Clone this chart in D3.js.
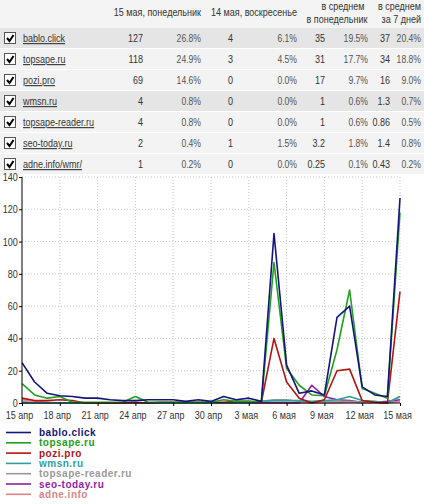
<!DOCTYPE html>
<html>
<head>
<meta charset="utf-8">
<script src="https://cdn.jsdelivr.net/npm/d3@7"></script>
<style>
  body { margin: 0; background: #fff; }
  svg { display: block; font-family: "Liberation Sans", Arial, sans-serif; }
  .grid line { stroke: #c8c8c8; stroke-dasharray: 1,2; }
  .axis text { font-size: 11px; fill: #333; }
  .axis path, .axis line { stroke: #000; }
</style>
</head>
<body>
<div id="chart"></div>
<script>
// table
const sites = ["bablo.click", "topsape.ru", "pozi.pro", "wmsn.ru", "topsape-reader.ru", "seo-today.ru", "adne.info/wmr/"];
const monVals = ["127", "118", "69", "4", "4", "2", "1"];
const monPct = ["26.8%", "24.9%", "14.6%", "0.8%", "0.8%", "0.4%", "0.2%"];
const sunVals = ["4", "3", "0", "0", "0", "1", "0"];
const sunPct = ["6.1%", "4.5%", "0.0%", "0.0%", "0.0%", "1.5%", "0.0%"];
const avgMonVals = ["35", "31", "17", "1", "1", "3.2", "0.25"];
const avgMonPct = ["19.5%", "17.7%", "9.7%", "0.6%", "0.6%", "1.8%", "0.1%"];
const avg7Vals = ["37", "34", "16", "1.3", "0.86", "1.4", "0.43"];
const avg7Pct = ["20.4%", "18.8%", "9.0%", "0.7%", "0.5%", "0.8%", "0.2%"];

// chart, one value per day 15 апр .. 15 мая
const legendNames = ["bablo.click", "topsape.ru", "pozi.pro", "wmsn.ru", "topsape-reader.ru", "seo-today.ru", "adne.info"];
const bablo = [25, 13, 6, 4.5, 4, 3, 3, 2, 1.5, 1.5, 2, 2, 2, 1, 2, 1, 4, 2, 3, 1, 105, 23.5, 6, 7.5, 5, 53, 60, 10, 5, 4, 127];
const topsape = [12, 5, 3, 4, 0.5, 0.5, 0.5, 0.5, 0.5, 4, 0.5, 0.5, 0.5, 0.5, 0.5, 0.5, 2, 1, 1, 0.5, 87, 21.5, 11, 5, 4.5, 33, 70, 9, 6, 3, 118];
const pozi = [3, 1.5, 1.5, 2, 1.5, 0, 0, 0, 0, 0.5, 0, 0.5, 0.5, 0.5, 0.5, 0.5, 0.5, 1, 1, 0.5, 40, 13, 3, 0, 2, 20, 21, 1.5, 0.5, 0, 69];
const wmsn = [0, 0, 0, 0, 0, 0, 0, 0, 0, 0, 0, 0, 0, 0, 0, 0, 0, 0, 0, 1, 1.5, 1.5, 1.5, 1, 1.5, 2, 4, 1.5, 1, 0, 4];
const reader = [1, 0, 0, 0, 0, 0, 0, 0, 0, 0, 0, 0, 0, 0, 0, 0, 0, 0, 0, 1, 2, 2, 1, 0.5, 1, 1, 1, 0.5, 0.5, 0, 4];
const seoToday = [0, 0, 0, 0, 0, 0, 0, 0, 0, 0, 0, 0, 0, 0, 0, 0, 0, 0, 0, 0, 0, 0, 0, 11, 4, 2, 1.5, 0.5, 0.5, 1, 2];
const adne = [2, 1, 0.5, 0, 0, 0, 0, 0, 0, 0, 0, 0, 0, 0, 0, 0, 0, 0, 0, 0, 0.5, 0.5, 0, 0, 0, 0, 0.5, 0, 0, 0, 1];
const colors = ["#14147e", "#22a022", "#b01414", "#2e9e9e", "#9a9a9a", "#8e1fa0", "#de8484"];
const yTicks = [0, 20, 40, 60, 80, 100, 120, 140];
const xTickLabels = ["15 апр", "18 апр", "21 апр", "24 апр", "27 апр", "30 апр", "3 мая", "6 мая", "9 мая", "12 мая", "15 мая"];

const series = [bablo, topsape, pozi, wmsn, reader, seoToday, adne];
const start = new Date(2017, 3, 15), stop = new Date(2017, 4, 16);
const dates = d3.timeDay.range(start, stop);
const tickDates = d3.timeDay.range(start, stop, 3);

const W = 424, H = 504;
const SQ = 0.82;   // the source font is narrower than Arial
const svg = d3.select("#chart").append("svg").attr("width", W).attr("height", H);

// place a text at x,y squeezed horizontally
function put(sel, x, y) {
    return sel.attr("transform", (d, i) => {
        let xx = typeof x === "function" ? x(d, i) : x;
        return "translate(" + xx + "," + y + ") scale(" + SQ + ",1)";
    });
}

// ---- table ----
const rowTop = 28, rowH = 21;
svg.append("rect").attr("x", 0).attr("y", 0).attr("width", W).attr("height", rowTop).attr("fill", "#f4f4f4");

let header = svg.append("g").attr("font-size", 11).attr("fill", "#333");
put(header.append("text").attr("text-anchor", "end").text("15 мая, понедельник"), 201, 16);
put(header.append("text").attr("text-anchor", "end").text("14 мая, воскресенье"), 297, 16);
put(header.append("text").attr("text-anchor", "middle").text("в среднем"), 343, 10);
put(header.append("text").attr("text-anchor", "middle").text("в понедельник"), 337, 23);
put(header.append("text").attr("text-anchor", "end").text("в среднем"), 421, 10);
put(header.append("text").attr("text-anchor", "end").text("за 7 дней"), 421, 23);

let rows = svg.append("g").selectAll("g")
    .data(sites)
    .enter().append("g")
    .attr("transform", (d, i) => "translate(0," + (rowTop + i * rowH) + ")");

rows.append("rect")
    .attr("width", W).attr("height", rowH - 1)
    .attr("fill", (d, i) => (i === 0 || i === 3) ? "#e5e5e5" : "#f3f3f3");

// checkbox
rows.append("rect")
    .attr("x", 4.5).attr("y", 4.5).attr("width", 11).attr("height", 11)
    .attr("fill", "#fff").attr("stroke", "#555");
rows.append("path")
    .attr("d", "M7,10 L9.5,13 L13.5,7")
    .attr("fill", "none").attr("stroke", "#000").attr("stroke-width", 2);

put(rows.append("text")
    .attr("font-size", 11).attr("fill", "#333")
    .attr("text-decoration", "underline")
    .text(d => d), 23, 14);

function col(values, x, pct) {
    put(rows.append("text")
        .attr("text-anchor", "end")
        .attr("font-size", pct ? 10.5 : 11)
        .attr("fill", pct ? "#555" : "#333")
        .text((d, i) => values[i]), x, 14);
}
col(monVals, 143, false);
col(monPct, 201, true);
col(sunVals, 233, false);
col(sunPct, 297, true);
col(avgMonVals, 325, false);
col(avgMonPct, 368, true);
col(avg7Vals, 390, false);
col(avg7Pct, 421, true);

// ---- chart ----
const x = d3.scaleTime().domain([start, dates[dates.length - 1]]).range([22, 400]);
const y = d3.scaleLinear().domain([0, 140]).range([403, 177]);

let grid = svg.append("g").attr("class", "grid");
grid.selectAll(".h").data(yTicks.filter(v => v > 0)).enter().append("line")
    .attr("x1", 22).attr("x2", 400).attr("y1", d => y(d)).attr("y2", d => y(d));
grid.selectAll(".v").data(tickDates.slice(1)).enter().append("line")
    .attr("x1", d => x(d)).attr("x2", d => x(d)).attr("y1", y(140)).attr("y2", y(0));

let line = d3.line()
    .x((d, i) => x(dates[i]))
    .y(d => y(d));

// draw minor series first so the big ones stay on top
svg.append("g").selectAll("path")
    .data(series.map((s, i) => ({s: s, c: colors[i]})).reverse())
    .enter().append("path")
    .attr("d", d => line(d.s))
    .attr("fill", "none")
    .attr("stroke", d => d.c)
    .attr("stroke-width", 1.6)
    .attr("stroke-linejoin", "round");

svg.append("g").attr("class", "axis")
    .attr("transform", "translate(22,0)")
    .call(d3.axisLeft(y).tickValues(yTicks).tickSize(3).tickPadding(1).tickFormat(d3.format("d")))
    .call(g => g.select(".domain").attr("d", "M0," + y(140) + "V" + (y(0) + 0.5)))
    .call(g => g.selectAll("text").attr("transform", "translate(-1,0) scale(" + SQ + ",1)"));

svg.append("g").attr("class", "axis")
    .attr("transform", "translate(0," + y(0) + ")")
    .call(d3.axisBottom(x).tickValues(tickDates).tickSize(3).tickPadding(5)
        .tickFormat((d, i) => xTickLabels[i]))
    .call(g => g.select(".domain").attr("d", "M22,0H400"))
    .call(g => g.selectAll("text").attr("transform", "translate(-3,0) scale(" + SQ + ",1)"));

// ---- legend ----
let legend = svg.append("g").selectAll("g")
    .data(legendNames)
    .enter().append("g")
    .attr("transform", (d, i) => "translate(0," + (432.5 + i * 10.3) + ")");
legend.append("line")
    .attr("x1", 6).attr("x2", 31)
    .attr("stroke", (d, i) => colors[i]).attr("stroke-width", 1.6);
legend.append("text")
    .attr("x", 39).attr("y", 3.5)
    .attr("font-size", 10).attr("font-weight", "bold")
    .attr("letter-spacing", 0.5)
    .attr("fill", (d, i) => colors[i])
    .text(d => d);
</script>
</body>
</html>
